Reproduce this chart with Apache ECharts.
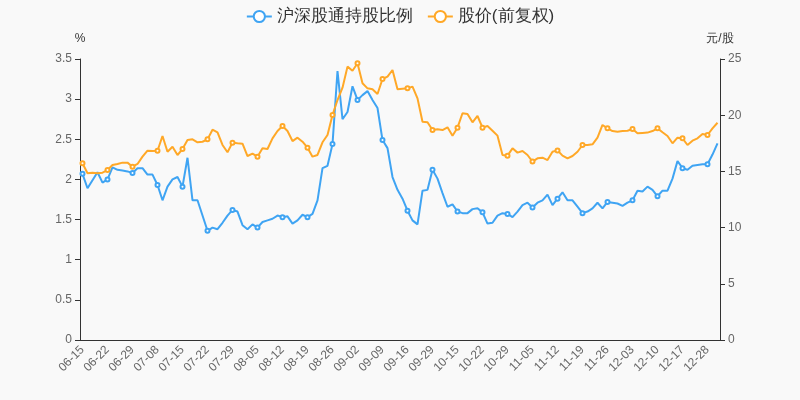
<!DOCTYPE html>
<html>
<head>
<meta charset="utf-8">
<script src="https://cdn.jsdelivr.net/npm/echarts@6/dist/echarts.min.js"></script>
<style>html,body{margin:0;padding:0;background:#f9f9f9;}#c{width:800px;height:400px;}</style>
</head>
<body>
<div id="c"></div>
<script>
var dates = ['06-15','06-16','06-17','06-18','06-21','06-22','06-23','06-24','06-25','06-28',
'06-29','06-30','07-02','07-05','07-07','07-08','07-09','07-12','07-13','07-14',
'07-15','07-16','07-19','07-20','07-21','07-22','07-23','07-26','07-27','07-28',
'07-29','07-30','08-02','08-03','08-04','08-05','08-06','08-09','08-10','08-11',
'08-12','08-13','08-16','08-17','08-18','08-19','08-20','08-23','08-24','08-25',
'08-26','08-27','08-30','08-31','09-01','09-02','09-03','09-06','09-07','09-08',
'09-09','09-10','09-13','09-14','09-15','09-16','09-17','09-23','09-24','09-28',
'09-29','09-30','10-08','10-11','10-12','10-15','10-18','10-19','10-20','10-21',
'10-22','10-25','10-26','10-27','10-28','10-29','11-01','11-02','11-03','11-04',
'11-05','11-08','11-09','11-10','11-11','11-12','11-15','11-16','11-17','11-18',
'11-19','11-22','11-23','11-24','11-25','11-26','11-29','11-30','12-01','12-02',
'12-03','12-06','12-07','12-08','12-09','12-10','12-13','12-14','12-15','12-16',
'12-17','12-20','12-21','12-22','12-23','12-28','12-29','12-30'];

var holdRatio = [2.07,1.89,1.99,2.09,1.96,2.00,2.15,2.12,2.11,2.10,
2.08,2.14,2.14,2.06,2.06,1.93,1.74,1.91,2.00,2.03,
1.91,2.27,1.74,1.74,1.55,1.36,1.40,1.38,1.46,1.55,
1.62,1.60,1.43,1.38,1.44,1.40,1.47,1.49,1.51,1.55,
1.53,1.54,1.45,1.49,1.56,1.53,1.57,1.74,2.14,2.17,
2.44,3.35,2.75,2.84,3.16,2.99,3.05,3.10,2.99,2.89,
2.49,2.39,2.03,1.87,1.76,1.61,1.49,1.44,1.86,1.87,
2.12,2.01,1.83,1.66,1.69,1.60,1.58,1.58,1.63,1.64,
1.59,1.45,1.46,1.55,1.58,1.57,1.53,1.60,1.68,1.71,
1.65,1.71,1.74,1.81,1.68,1.76,1.84,1.74,1.74,1.66,
1.58,1.60,1.64,1.71,1.64,1.72,1.71,1.70,1.67,1.71,
1.74,1.86,1.85,1.91,1.87,1.79,1.86,1.86,2.01,2.23,
2.14,2.12,2.17,2.18,2.19,2.19,2.31,2.45];

var price = [15.72,14.83,14.89,14.83,14.89,15.12,15.57,15.66,15.78,15.78,
15.42,15.66,16.31,16.84,16.81,16.84,18.15,16.75,17.20,16.46,
16.99,17.79,17.85,17.59,17.64,17.85,18.71,18.48,17.35,16.70,
17.56,17.50,17.47,16.37,16.58,16.31,17.05,16.99,17.94,18.59,
19.04,18.59,17.70,18.00,17.64,17.11,16.31,16.46,17.59,18.24,
20.02,21.35,22.45,24.32,23.96,24.62,22.84,22.39,22.30,21.89,
23.22,23.43,24.02,22.30,22.35,22.39,22.54,21.50,19.42,19.37,
18.68,18.74,18.68,18.92,18.18,18.89,20.17,20.11,19.37,19.93,
18.89,19.04,18.62,18.18,16.46,16.40,17.05,16.67,16.81,16.46,
15.87,16.16,16.22,16.01,16.75,16.87,16.40,16.16,16.37,16.75,
17.35,17.35,17.41,18.00,19.13,18.83,18.59,18.53,18.59,18.62,
18.77,18.39,18.42,18.45,18.59,18.83,18.48,18.15,17.50,18.00,
17.94,17.35,17.73,17.94,18.33,18.24,18.83,19.33];

var seriesNames = ['沪深股通持股比例','股价(前复权)'];
var leftTicks = {min:0,max:3.5,interval:0.5};
var rightTicks = {min:0,max:25,interval:5};

var chart = echarts.init(document.getElementById('c'));
chart.setOption({
  backgroundColor:'#f9f9f9',
  animation:false,
  color:['#3fa4f3','#ffa827'],
  legend:{
    top:3,
    left:'center',
    itemWidth:25,
    itemHeight:14,
    itemGap:14,
    textStyle:{fontSize:17,color:'#333'},
    data:seriesNames
  },
  grid:{left:80,right:80,top:59,bottom:60},
  xAxis:{
    type:'category',
    data:dates,
    axisLine:{lineStyle:{color:'#333'}},
    axisTick:{interval:4,lineStyle:{color:'#333'}},
    axisLabel:{interval:4,rotate:45,color:'#666',fontSize:12}
  },
  yAxis:[{
    type:'value',
    name:'%',
    min:leftTicks.min,max:leftTicks.max,interval:leftTicks.interval,
    nameTextStyle:{color:'#333',fontSize:12},
    nameGap:14,
    axisLine:{show:true,lineStyle:{color:'#333'}},
    axisTick:{show:true},
    axisLabel:{color:'#666',fontSize:12},
    splitLine:{show:false}
  },{
    type:'value',
    name:'元/股',
    min:rightTicks.min,max:rightTicks.max,interval:rightTicks.interval,
    nameTextStyle:{color:'#333',fontSize:12},
    nameGap:14,
    axisLine:{show:true,lineStyle:{color:'#333'}},
    axisTick:{show:true},
    axisLabel:{color:'#666',fontSize:12},
    splitLine:{show:false}
  }],
  series:[{
    name:seriesNames[0],
    type:'line',
    yAxisIndex:0,
    data:holdRatio,
    symbolSize:4,
    itemStyle:{borderWidth:1},
    lineStyle:{width:2}
  },{
    name:seriesNames[1],
    type:'line',
    yAxisIndex:1,
    data:price,
    symbolSize:4,
    itemStyle:{borderWidth:1},
    lineStyle:{width:2}
  }]
});
</script>
</body>
</html>
